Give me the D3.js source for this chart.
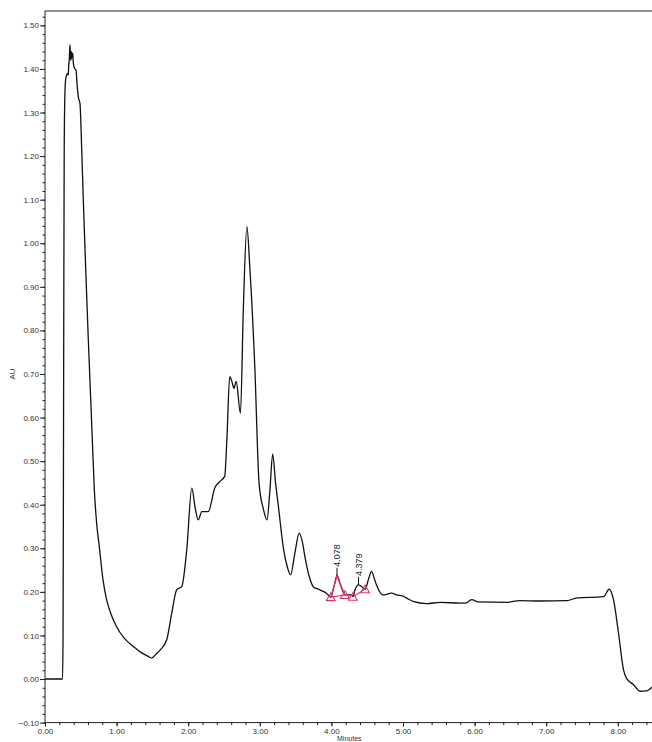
<!DOCTYPE html>
<html>
<head>
<meta charset="utf-8">
<script src="https://cdn.jsdelivr.net/npm/d3@7/dist/d3.min.js"></script>
<style>
  html, body { margin: 0; padding: 0; background: #fff; }
  svg { display: block; }
  .axis text { font-family: "Liberation Sans", Arial, sans-serif; font-size: 8px; fill: #333; }
  .axis path, .axis line { stroke: #222; stroke-width: 1; }
</style>
</head>
<body>
<svg id="chart" width="652" height="742"></svg>
<script>
// Retention time (minutes) of the detector trace
const minutes = [
  0.00, 0.10, 0.20, 0.245, 0.252, 0.258, 0.263, 0.268, 0.275, 0.285,
  0.300, 0.315, 0.325, 0.332, 0.338, 0.344, 0.349, 0.355, 0.362, 0.368,
  0.374, 0.380, 0.387, 0.395, 0.405, 0.420, 0.433, 0.450, 0.465, 0.489,
  0.513, 0.535, 0.559, 0.600, 0.650, 0.689, 0.720, 0.758, 0.810, 0.860,
  0.920, 1.00, 1.10, 1.23, 1.35, 1.44, 1.49, 1.55, 1.61, 1.70,
  1.77, 1.84, 1.91, 1.98, 2.05, 2.10, 2.14, 2.19, 2.28, 2.37,
  2.44, 2.51, 2.54, 2.58, 2.61, 2.64, 2.67, 2.73, 2.77, 2.82,
  2.86, 2.93, 2.99, 3.05, 3.10, 3.14, 3.18, 3.22, 3.26, 3.33,
  3.38, 3.43, 3.49, 3.55, 3.60, 3.63, 3.70, 3.75, 3.82, 3.86,
  3.93, 3.99, 4.04, 4.078, 4.13, 4.19, 4.28, 4.30, 4.33, 4.379,
  4.43, 4.47, 4.52, 4.56, 4.60, 4.63, 4.72, 4.84, 4.91, 5.00,
  5.07, 5.14, 5.33, 5.52, 5.80, 5.87, 5.96, 6.05, 6.45, 6.63,
  6.91, 7.29, 7.43, 7.80, 7.88, 7.94, 8.01, 8.08, 8.12, 8.22,
  8.31, 8.40, 8.48
];

// Absorbance (AU) at each time above
const absorbance = [
  0.000, 0.000, 0.000, 0.000, 0.100, 0.500, 0.900, 1.200, 1.320, 1.370,
  1.385, 1.390, 1.386, 1.410, 1.420, 1.440, 1.455, 1.430, 1.420, 1.440,
  1.425, 1.435, 1.436, 1.415, 1.405, 1.400, 1.397, 1.360, 1.336, 1.320,
  1.214, 1.100, 0.985, 0.800, 0.595, 0.434, 0.360, 0.304, 0.228, 0.182,
  0.150, 0.120, 0.095, 0.075, 0.060, 0.052, 0.048, 0.057, 0.067, 0.090,
  0.151, 0.205, 0.212, 0.297, 0.438, 0.390, 0.365, 0.384, 0.384, 0.438,
  0.453, 0.465, 0.549, 0.694, 0.683, 0.667, 0.683, 0.610, 0.850, 1.038,
  0.946, 0.717, 0.449, 0.390, 0.365, 0.430, 0.516, 0.450, 0.396, 0.300,
  0.260, 0.239, 0.289, 0.335, 0.310, 0.281, 0.230, 0.211, 0.206, 0.203,
  0.197, 0.188, 0.215, 0.237, 0.215, 0.193, 0.193, 0.189, 0.205, 0.216,
  0.211, 0.206, 0.230, 0.247, 0.230, 0.216, 0.193, 0.197, 0.193, 0.190,
  0.184, 0.178, 0.173, 0.176, 0.174, 0.174, 0.182, 0.177, 0.176, 0.180,
  0.179, 0.180, 0.186, 0.189, 0.206, 0.182, 0.105, 0.021, 0.002, -0.013,
  -0.028, -0.027, -0.018
];

// Integrated peaks: start, apex and end times with their labels
const peakLabels = ["4.078", "4.379"];
const peakApex   = [4.078, 4.379];
const peakStart  = [3.99, 4.30];
const peakEnd    = [4.19, 4.47];

// Axis tick values
const yMajorTicks = d3.range(-0.10, 1.501, 0.10).map(v => +v.toFixed(2));
const yMinorTicks = d3.range(-0.10, 1.531, 0.02).map(v => +v.toFixed(2));
const xMajorTicks = d3.range(0, 8.01, 1);
const xMinorTicks = d3.range(0, 8.5, 0.2).map(v => +v.toFixed(1));

const trace = minutes.map((t, i) => ({ t, v: absorbance[i] }));
const valueAt = t => absorbance[minutes.indexOf(t)];

const svg = d3.select("#chart");
const plotLeft = 45, plotTop = 11, plotBottom = 722.6, pxPerMin = 71.6;

const x = d3.scaleLinear().domain([0, 8.5]).range([plotLeft, plotLeft + pxPerMin * 8.5]);
const y = d3.scaleLinear().domain([-0.10, 1.533]).range([plotBottom, plotTop]);

// Minor ticks
svg.append("g").attr("class", "axis")
  .attr("transform", `translate(${plotLeft},0)`)
  .call(d3.axisLeft(y).tickValues(yMinorTicks).tickSize(2.5).tickFormat("").tickSizeOuter(0))
  .call(g => g.select(".domain").remove());
svg.append("g").attr("class", "axis")
  .attr("transform", `translate(0,${plotBottom})`)
  .call(d3.axisBottom(x).tickValues(xMinorTicks).tickSize(2.5).tickFormat("").tickSizeOuter(0))
  .call(g => g.select(".domain").remove());

// Major axes
svg.append("g").attr("class", "axis")
  .attr("transform", `translate(${plotLeft},0)`)
  .call(d3.axisLeft(y).tickValues(yMajorTicks).tickSize(5).tickPadding(1).tickFormat(d3.format(".2f")).tickSizeOuter(0))
  .call(g => g.select(".domain").attr("d", `M0,${plotBottom}V${plotTop}`));
svg.append("g").attr("class", "axis")
  .attr("transform", `translate(0,${plotBottom})`)
  .call(d3.axisBottom(x).tickValues(xMajorTicks).tickSize(4).tickPadding(2).tickFormat(d3.format(".2f")).tickSizeOuter(0))
  .call(g => g.select(".domain").attr("d", `M${plotLeft},0H652`));

// Top frame line
svg.append("line")
  .attr("x1", plotLeft).attr("x2", 652).attr("y1", plotTop).attr("y2", plotTop)
  .attr("stroke", "#222").attr("stroke-width", 1);

// Axis titles
svg.append("text")
  .attr("transform", `translate(15,${y(0.70)}) rotate(-90)`)
  .attr("text-anchor", "middle")
  .style("font-family", "Liberation Sans, Arial, sans-serif")
  .style("font-size", "8px").style("fill", "#333")
  .text("AU");
svg.append("text")
  .attr("x", x(4.25)).attr("y", 741)
  .attr("text-anchor", "middle")
  .style("font-family", "Liberation Sans, Arial, sans-serif")
  .style("font-size", "7px").style("fill", "#333")
  .text("Minutes");

// Chromatogram trace
const line = d3.line().x(d => x(d.t)).y(d => y(d.v)).curve(d3.curveMonotoneX);
svg.append("path")
  .datum(trace)
  .attr("fill", "none")
  .attr("stroke", "#111")
  .attr("stroke-width", 1.3)
  .attr("stroke-linejoin", "round")
  .attr("d", line);

// Peak integration marks
const pink = "#e2336a";
const tri = d3.symbol().type(d3.symbolTriangle).size(34);
peakLabels.forEach((label, i) => {
  const s = peakStart[i], e = peakEnd[i], a = peakApex[i];
  // baseline between start and end
  svg.append("line")
    .attr("x1", x(s)).attr("y1", y(valueAt(s)))
    .attr("x2", x(e)).attr("y2", y(valueAt(e)))
    .attr("stroke", pink).attr("stroke-width", 1.1);
  if (i === 0) {
    svg.append("path")
      .datum(trace.filter(d => d.t >= s && d.t <= e))
      .attr("fill", "none").attr("stroke", pink).attr("stroke-width", 1.4)
      .attr("d", d3.line().x(d => x(d.t)).y(d => y(d.v)));
  }
  [s, e].forEach(t => {
    svg.append("path")
      .attr("d", tri)
      .attr("transform", `translate(${x(t)},${y(valueAt(t)) + 1})`)
      .attr("fill", "none").attr("stroke", pink).attr("stroke-width", 1.1);
  });
  // leader and retention-time label
  const ax = x(a), ay = y(valueAt(a));
  svg.append("line")
    .attr("x1", ax).attr("x2", ax).attr("y1", ay).attr("y2", ay - 8)
    .attr("stroke", "#111").attr("stroke-width", 1);
  svg.append("text")
    .attr("transform", `translate(${ax + 3},${ay - 9}) rotate(-90)`)
    .attr("text-anchor", "start")
    .style("font-family", "Liberation Sans, Arial, sans-serif")
    .style("font-size", "9px").style("fill", "#222")
    .text(label);
});
</script>
</body>
</html>
